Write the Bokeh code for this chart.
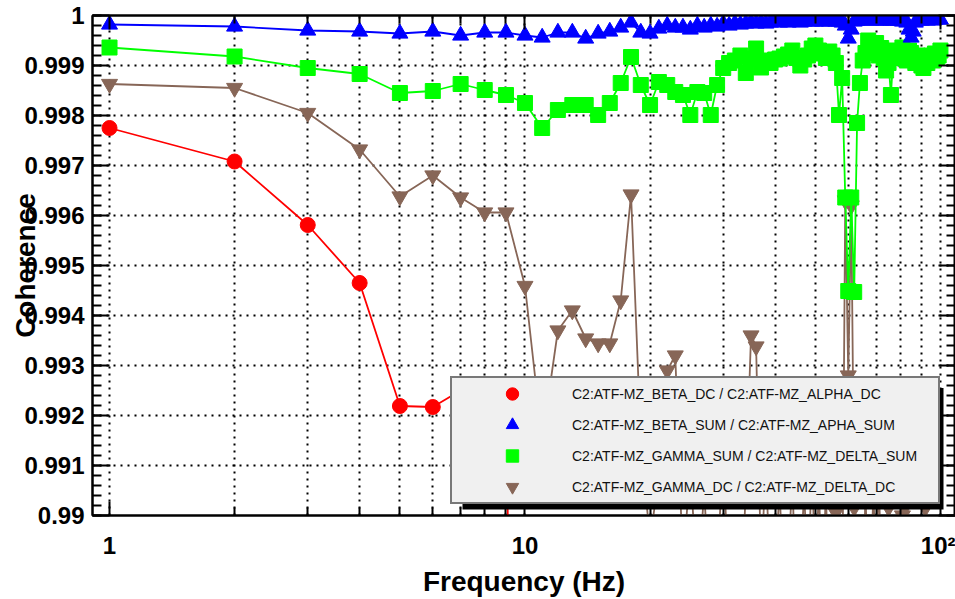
import math
from bokeh.plotting import figure
from bokeh.models import (FixedTicker, LinearAxis, LogAxis, Legend, LegendItem,
                          BoxAnnotation, Range1d, PrintfTickFormatter)
from bokeh.embed import file_html
from bokeh.resources import INLINE

# ---------------- data ----------------
freq = list(range(1, 101))

red_freq = freq[:10]
red_vals = [0.99775, 0.99708, 0.99581, 0.99465, 0.99219, 0.99217, 0.99250, 0.99240,
            0.99210, 0.97000]

blue_vals = [
    0.99982, 0.99978, 0.99970, 0.99968, 0.99964, 0.99968, 0.99960, 0.99966, 0.99966, 0.99960,
    0.99956, 0.99966, 0.99966, 0.99954, 0.99964, 0.99968, 0.99976, 0.99986, 0.99966, 0.99964,
    0.99974, 0.99980, 0.99976, 0.99976, 0.99972, 0.99980, 0.99976, 0.99980, 0.99978, 0.99984,
    0.99980, 0.99984, 0.99982, 0.99984, 0.99986, 0.99984, 0.99986, 0.99984, 0.99986, 0.99988,
    0.99986, 0.99988, 0.99986, 0.99988, 0.99988, 0.99986, 0.99988, 0.99990, 0.99988, 0.99988,
    0.99990, 0.99988, 0.99990, 0.99988, 0.99990, 0.99988, 0.99988, 0.99986, 0.99980, 0.99954,
    0.99972, 0.99988, 0.99990, 0.99990, 0.99992, 0.99990, 0.99992, 0.99990, 0.99992, 0.99990,
    0.99992, 0.99990, 0.99992, 0.99990, 0.99992, 0.99990, 0.99990, 0.99992, 0.99990, 0.99990,
    0.99988, 0.99990, 0.99986, 0.99972, 0.99956, 0.99968, 0.99986, 0.99990, 0.99992, 0.99990,
    0.99992, 0.99992, 0.99990, 0.99992, 0.99992, 0.99990, 0.99992, 0.99994, 0.99992, 0.99992]

green_vals = [
    0.99936, 0.99918, 0.99895, 0.99883, 0.99845, 0.99849, 0.99863, 0.99851, 0.99841, 0.99825,
    0.99775, 0.99811, 0.99821, 0.99821, 0.99801, 0.99825, 0.99865, 0.99917, 0.99861, 0.99821,
    0.99867, 0.99861, 0.99847, 0.99841, 0.99801, 0.99847, 0.99845, 0.99801, 0.99861, 0.99895,
    0.99905, 0.99910, 0.99920, 0.99885, 0.99914, 0.99934, 0.99896, 0.99910, 0.99905, 0.99912,
    0.99914, 0.99918, 0.99922, 0.99930, 0.99915, 0.99900, 0.99912, 0.99920, 0.99934, 0.99940,
    0.99930, 0.99924, 0.99915, 0.99928, 0.99920, 0.99905, 0.99801, 0.99875, 0.99636, 0.99449,
    0.99636, 0.99447, 0.99785, 0.99865, 0.99910, 0.99925, 0.99950, 0.99940, 0.99930, 0.99945,
    0.99920, 0.99935, 0.99915, 0.99890, 0.99905, 0.99841, 0.99920, 0.99930, 0.99915, 0.99925,
    0.99936, 0.99920, 0.99910, 0.99930, 0.99925, 0.99915, 0.99905, 0.99920, 0.99910, 0.99900,
    0.99895, 0.99910, 0.99905, 0.99915, 0.99920, 0.99910, 0.99924, 0.99915, 0.99920, 0.99930]

brown_vals = [
    0.99863, 0.99855, 0.99805, 0.99732, 0.99638, 0.99680, 0.99636, 0.99606, 0.99606, 0.99459,
    0.99150, 0.99370, 0.99410, 0.99354, 0.99344, 0.99344, 0.99430, 0.99642, 0.99150, 0.98950,
    0.99080, 0.99290, 0.99320, 0.98900, 0.99100, 0.98850, 0.99050, 0.98800, 0.98900, 0.99120,
    0.98850, 0.98900, 0.98800, 0.99050, 0.99360, 0.99338, 0.98900, 0.99100, 0.98850, 0.98900,
    0.99050, 0.98850, 0.98900, 0.99080, 0.98800, 0.98900, 0.99050, 0.98850, 0.99100, 0.98900,
    0.99050, 0.98850, 0.99050, 0.98800, 0.98900, 0.99006, 0.98850, 0.98800, 0.99630, 0.99280,
    0.99620, 0.99016, 0.98850, 0.98900, 0.98800, 0.99050, 0.98850, 0.98900, 0.99050, 0.98850,
    0.99080, 0.98900, 0.98850, 0.98900, 0.99016, 0.98850, 0.98900, 0.98800, 0.98900, 0.98850,
    0.99000, 0.99016, 0.98850, 0.98900, 0.98800, 0.98850, 0.98900, 0.98800, 0.98850, 0.98900,
    0.98850, 0.99016, 0.98800, 0.98850, 0.98900, 0.98800, 0.98850, 0.98900, 0.98950, 0.98850]

series_labels = [
    "C2:ATF-MZ_BETA_DC / C2:ATF-MZ_ALPHA_DC",
    "C2:ATF-MZ_BETA_SUM / C2:ATF-MZ_APHA_SUM",
    "C2:ATF-MZ_GAMMA_SUM / C2:ATF-MZ_DELTA_SUM",
    "C2:ATF-MZ_GAMMA_DC / C2:ATF-MZ_DELTA_DC",
]

x_major = [1, 10, 100]
x_minor = [2, 3, 4, 5, 6, 7, 8, 9, 20, 30, 40, 50, 60, 70, 80, 90]
x_labels = {1: "1", 10: "10", 100: "10\u00b2"}
y_major = [0.99, 0.991, 0.992, 0.993, 0.994, 0.995, 0.996, 0.997, 0.998, 0.999, 1.0]
y_minor = [round(0.99 + 0.0002 * i, 4) for i in range(51)]

RED, BLUE, GREEN, BROWN = "#ff0000", "#0000ff", "#00ff00", "#876657"
FONT = "Liberation Sans"

# ---------------- figure ----------------
p = figure(width=955, height=599, x_axis_type="log",
           x_range=Range1d(0.91, 108.7), y_range=Range1d(0.99, 1.0),
           output_backend="svg", toolbar_location=None,
           min_border_left=92, min_border_right=0, min_border_top=15,
           min_border_bottom=81)
p.background_fill_color = "white"
p.border_fill_color = "white"
p.outline_line_color = "black"
p.outline_line_width = 2

xt = FixedTicker(ticks=x_major, minor_ticks=x_minor)
yt = FixedTicker(ticks=y_major, minor_ticks=y_minor)

xa = p.xaxis[0]
xa.ticker = xt
xa.major_label_overrides = x_labels
ya = p.yaxis[0]
ya.ticker = yt
ya.formatter = PrintfTickFormatter(format="%g")

top = LogAxis(ticker=xt)
right = LinearAxis(ticker=yt)
p.add_layout(top, "above")
p.add_layout(right, "right")

for ax in (xa, top):
    ax.major_tick_in = 14
    ax.minor_tick_in = 8
for ax in (ya, right):
    ax.major_tick_in = 17
    ax.minor_tick_in = 9
for ax in (xa, ya, top, right):
    ax.major_tick_out = 0
    ax.minor_tick_out = 0
    ax.major_tick_line_width = 2
    ax.minor_tick_line_width = 2
    ax.major_tick_line_color = "black"
    ax.minor_tick_line_color = "black"
    ax.axis_line_width = 2
    ax.axis_line_color = "black"
    ax.major_label_text_font = FONT
    ax.major_label_text_font_style = "bold"
    ax.major_label_text_font_size = "24px"
    ax.major_label_text_color = "black"
for ax in (top, right):
    ax.major_label_text_font_size = "1px"
    ax.major_label_text_color = None
    ax.major_label_standoff = 0
xa.major_label_standoff = 16
ya.major_label_standoff = 8

# axis titles
xa.axis_label = "Frequency (Hz)"
ya.axis_label = "Coherence"
for ax in (xa, ya):
    ax.axis_label_text_font = FONT
    ax.axis_label_text_font_style = "bold"
    ax.axis_label_text_font_size = "28px"
    ax.axis_label_text_color = "black"
xa.axis_label_standoff = 4
ya.axis_label_standoff = -20

p.xgrid.ticker = xt
p.ygrid.ticker = yt
p.xgrid.grid_line_color = "black"
p.xgrid.grid_line_dash = "2 5"
p.xgrid.grid_line_width = 2
p.xgrid.minor_grid_line_color = "black"
p.xgrid.minor_grid_line_dash = "2 5"
p.xgrid.minor_grid_line_width = 2
p.ygrid.grid_line_color = "black"
p.ygrid.grid_line_dash = "2 5"
p.ygrid.grid_line_width = 2
p.ygrid.minor_grid_line_color = None

# ---------------- data glyphs ----------------
p.line(red_freq, red_vals, line_color=RED, line_width=1.8)
r_red = p.scatter(red_freq, red_vals, marker="circle", size=15,
                  fill_color=RED, line_color=RED)

p.line(freq, brown_vals, line_color=BROWN, line_width=1.8)
r_brown = p.scatter(freq, brown_vals, marker="inverted_triangle", size=16,
                    fill_color=BROWN, line_color=BROWN)

p.line(freq, green_vals, line_color=GREEN, line_width=1.8)
r_green = p.scatter(freq, green_vals, marker="square", size=15,
                    fill_color=GREEN, line_color=GREEN)

p.line(freq, blue_vals, line_color=BLUE, line_width=1.8)
r_blue = p.scatter(freq, blue_vals, marker="triangle", size=16,
                   fill_color=BLUE, line_color=BLUE)

# ---------------- legend (with drop shadow) ----------------
shadow = BoxAnnotation(left=370, right=851, top=0.99255, bottom=0.99012,
                       left_units="screen", right_units="screen",
                       top_units="data", bottom_units="data",
                       fill_color="black", fill_alpha=1.0, line_color=None)
p.add_layout(shadow)

legend = Legend(items=[
    LegendItem(label=series_labels[0], renderers=[r_red]),
    LegendItem(label=series_labels[1], renderers=[r_blue]),
    LegendItem(label=series_labels[2], renderers=[r_green]),
    LegendItem(label=series_labels[3], renderers=[r_brown]),
], location=(358, 11), margin=0, padding=0, spacing=0,
    glyph_width=120, glyph_height=31, label_standoff=0,
    label_width=366, label_height=20,
    label_text_font=FONT, label_text_font_size="14px", label_text_color="#111111",
    background_fill_color="#f0f0f0", background_fill_alpha=1.0,
    border_line_color="black", border_line_width=2)
p.add_layout(legend)

open("out.html", "w").write(file_html(p, INLINE))
